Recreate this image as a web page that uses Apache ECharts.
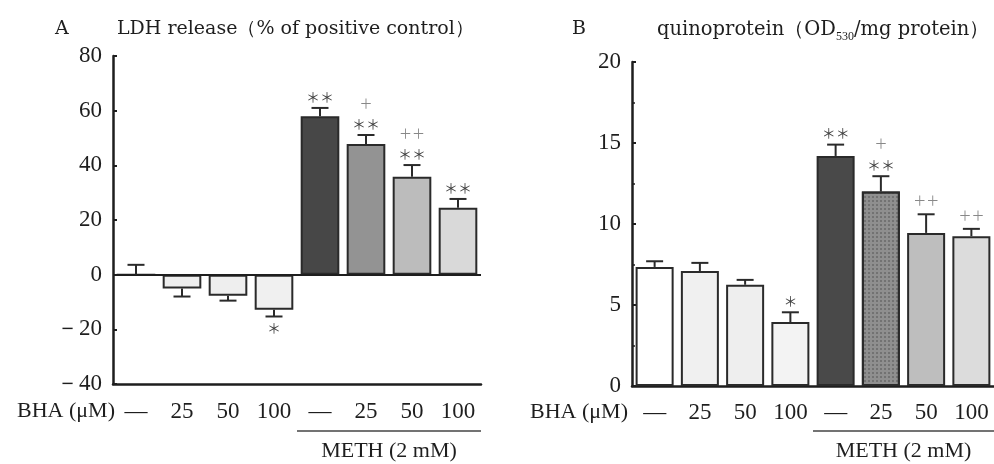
<!DOCTYPE html>
<html><head><meta charset="utf-8">
<script src="https://cdn.jsdelivr.net/npm/echarts@6/dist/echarts.min.js"></script>
<style>html,body{margin:0;padding:0;background:#fff}#c{width:994px;height:464px}</style>
</head><body><div id="c"></div>
<script>
// ---- data ----
const categories = ['—', '25', '50', '100', '—', '25', '50', '100'];
const ldhMean = [0, -5.1, -7.7, -12.8, 58.0, 47.8, 35.8, 24.5];
const ldhErr  = [3.6, 2.9, 1.8, 2.5, 3.0, 3.3, 4.3, 3.2];
const ldhStars = ['', '', '', '＊', '＊＊', '＊＊', '＊＊', '＊＊'];
const ldhPlus  = ['', '', '', '', '', '＋', '＋＋', ''];
const quinMean = [7.35, 7.1, 6.25, 3.95, 14.2, 12.0, 9.45, 9.25];
const quinErr  = [0.35, 0.5, 0.3, 0.6, 0.7, 0.95, 1.15, 0.45];
const quinStars = ['', '', '', '＊', '＊＊', '＊＊', '', ''];
const quinPlus  = ['', '', '', '', '', '＋', '＋＋', '＋＋'];
const yTicksA = {min: -40, max: 80, interval: 20};
const yTicksB = {min: 0, max: 20, interval: 5};
const groupLabel = 'METH (2 mM)';
const xName = 'BHA (μM)';
const titleA = 'LDH release（% of positive control）';

// ---- styles ----
const colorsA = ['#ffffff', '#eeeeee', '#eeeeee', '#f0f0f0', '#474747', '#939393', '#bcbcbc', '#d9d9d9'];
const colorsB = ['#ffffff', '#f0f0f0', '#eeeeee', '#f3f3f3', '#494949', '#8f8f8f', '#bebebe', '#dcdcdc'];
const serif = '"Liberation Serif", "DejaVu Serif", serif';
const titleFont = '"DejaVu Serif", "Liberation Serif", serif';
const ink = '#1e1e1e';
const gA = {left: 113, top: 56, width: 368, height: 328};
const gB = {left: 632, top: 62, width: 362, height: 324};
const bracketY = 431;

function barData(vals, colors, decalIdx) {
  return vals.map((v, i) => {
    const it = {value: v, itemStyle: {color: colors[i]}};
    if (decalIdx === i) {
      it.itemStyle.decal = {symbol: 'rect', symbolSize: 1, dashArrayX: [2, 2], dashArrayY: [2, 2], color: 'rgba(60,60,60,0.35)'};
    }
    return it;
  });
}

function errSeries(xi, yi, means, errs, stars, plus, starGap, plusGap) {
  return {
    type: 'custom', xAxisIndex: xi, yAxisIndex: yi, z: 5,
    data: means.map((m, i) => [i, m, errs[i]]),
    encode: {x: 0, y: 1},
    renderItem: function (params, api) {
      const i = api.value(0), m = api.value(1), e = api.value(2);
      const sgn = m < 0 ? -1 : 1;
      const p0 = api.coord([i, m]);
      const p1 = api.coord([i, m + sgn * e]);
      const cap = 8.5;
      const ls = {stroke: '#2a2a2a', lineWidth: 2};
      const children = [
        {type: 'line', shape: {x1: p0[0], y1: p0[1], x2: p1[0], y2: p1[1]}, style: ls},
        {type: 'line', shape: {x1: p1[0] - cap, y1: p1[1], x2: p1[0] + cap, y2: p1[1]}, style: ls}
      ];
      const idx = params.dataIndex;
      let sy = p1[1] - sgn * starGap;
      if (stars[idx]) {
        children.push({type: 'text', style: {text: stars[idx], x: p1[0], y: sy, align: 'center', verticalAlign: 'middle',
          fill: '#444', font: '14px "Noto Sans CJK JP", sans-serif'}});
      }
      if (plus[idx]) {
        const py = stars[idx] ? sy - plusGap : p1[1] - 14;
        children.push({type: 'text', style: {text: plus[idx], x: p1[0], y: py, align: 'center', verticalAlign: 'middle',
          fill: '#888', font: '13px "Noto Sans CJK JP", sans-serif'}});
      }
      return {type: 'group', children: children};
    }
  };
}

function xAxisFor(gi, margin, nameGap) {
  return {
    type: 'category', gridIndex: gi, data: categories,
    axisLine: {onZero: false, lineStyle: {color: ink, width: 2.5}},
    axisTick: {show: false},
    axisLabel: {interval: 0, margin: margin, color: ink, fontFamily: serif, fontSize: 23},
    name: xName, nameLocation: 'start', nameGap: nameGap,
    nameTextStyle: {color: ink, fontFamily: serif, fontSize: 22, align: 'right', verticalAlign: 'top', padding: [margin, 0, 0, 0]}
  };
}

function yAxisFor(gi, t, minor) {
  return {
    type: 'value', gridIndex: gi, min: t.min, max: t.max, interval: t.interval,
    axisLine: {show: true, lineStyle: {color: ink, width: 2.5}},
    axisTick: {show: true, inside: true, length: 4, lineStyle: {color: ink, width: 2}},
    minorTick: {show: minor, splitNumber: 2, length: 3, lineStyle: {color: ink, width: 1.5}},
    splitLine: {show: false},
    axisLabel: {margin: 11, color: ink, fontFamily: serif, fontSize: 23,
      formatter: v => v < 0 ? '－' + Math.abs(v) : String(v)}
  };
}

const tStyle = {fontFamily: titleFont, fontSize: 19, fontWeight: 'normal', color: ink};
const chart = echarts.init(document.getElementById('c'), null, {renderer: 'canvas'});
const option = {
  backgroundColor: '#ffffff',
  animation: false,
  title: [
    {text: 'A', left: 50, top: 15, textStyle: tStyle},
    {text: titleA, left: 112, top: 15, textStyle: tStyle},
    {text: 'B', left: 567, top: 15, textStyle: tStyle},
    {text: '{n|quinoprotein（OD}{s|530}{n|/mg protein）}', left: 652, top: 15,
      textStyle: {fontWeight: 'normal', rich: {
        n: {fontFamily: titleFont, fontSize: 19.5, fontWeight: 'normal', color: ink, verticalAlign: 'bottom'},
        s: {fontFamily: serif, fontSize: 12, fontWeight: 'normal', color: ink, verticalAlign: 'bottom', padding: [0, 0, -3, 0]}
      }}}
  ],
  grid: [
    Object.assign({containLabel: false}, gA),
    Object.assign({containLabel: false}, gB)
  ],
  xAxis: [xAxisFor(0, 16, -2), xAxisFor(1, 15, 4)],
  yAxis: [yAxisFor(0, yTicksA, false), yAxisFor(1, yTicksB, true)],
  series: [
    {type: 'bar', xAxisIndex: 0, yAxisIndex: 0, barWidth: '84%', data: barData(ldhMean, colorsA, -1),
      itemStyle: {borderColor: '#2a2a2a', borderWidth: 2},
      markLine: {silent: true, symbol: 'none', label: {show: false}, animation: false,
        lineStyle: {color: ink, width: 1.8, type: 'solid'}, data: [{yAxis: 0}]}},
    errSeries(0, 0, ldhMean, ldhErr, ldhStars, ldhPlus, 11, 21),
    {type: 'bar', xAxisIndex: 1, yAxisIndex: 1, barWidth: '84%', data: barData(quinMean, colorsB, 5),
      itemStyle: {borderColor: '#2a2a2a', borderWidth: 2}},
    errSeries(1, 1, quinMean, quinErr, quinStars, quinPlus, 12, 21)
  ]
};
chart.setOption(option);

// group bracket under the METH bars (categories 4..7), derived from the axis layout
function bracket(g) {
  const slot = g.width / categories.length;
  const x1 = g.left + 4 * slot, x2 = g.left + g.width;
  const y = bracketY;
  return [
    {type: 'line', shape: {x1: x1, y1: y, x2: x2, y2: y}, style: {stroke: '#444', lineWidth: 1.5}},
    {type: 'text', style: {text: groupLabel, x: (x1 + x2) / 2, y: y + 20, align: 'center', verticalAlign: 'middle',
      fill: ink, font: '22px ' + serif}}
  ];
}
chart.setOption({graphic: {elements: bracket(gA).concat(bracket(gB))}});
</script></body></html>
